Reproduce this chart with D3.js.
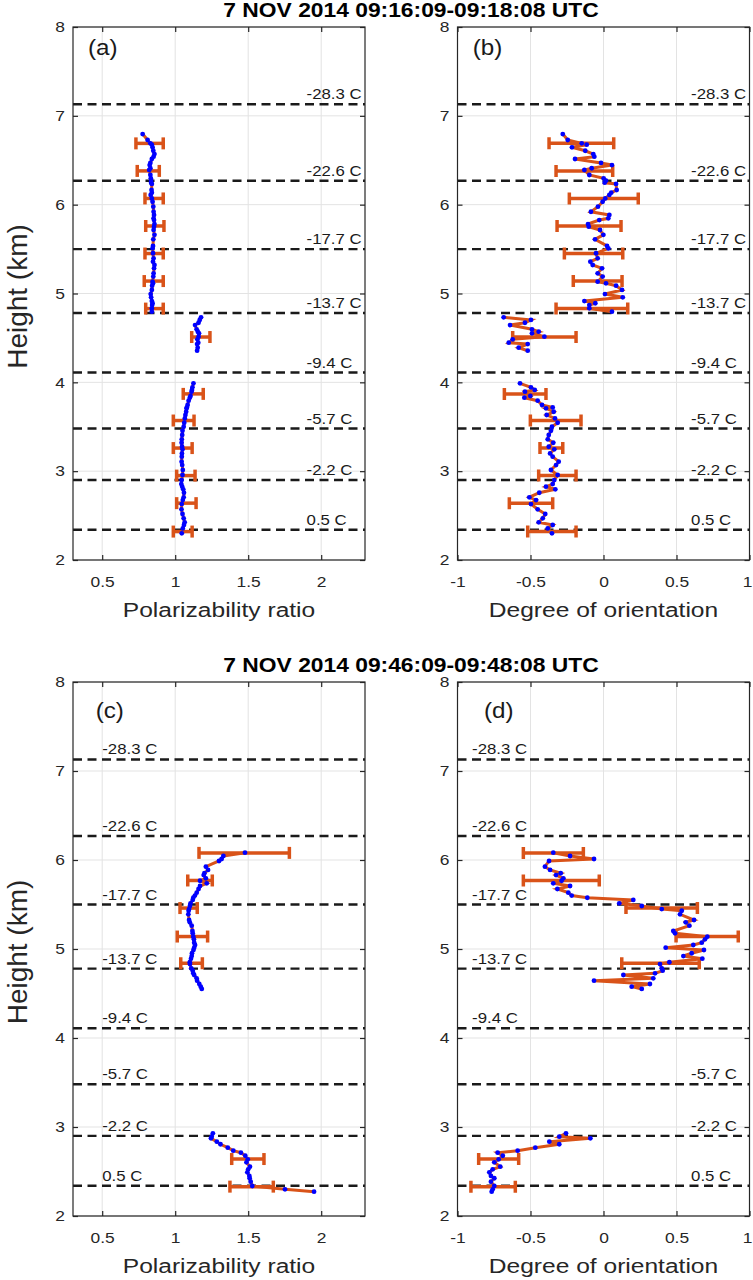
<!DOCTYPE html>
<html>
<head>
<meta charset="utf-8">
<script src="https://cdn.jsdelivr.net/npm/d3@7"></script>
<style>
  body { margin: 0; background: #fff; }
  svg { display: block; font-family: "Liberation Sans", Arial, sans-serif; }
</style>
</head>
<body>
<svg id="chart" width="753" height="1280"></svg>
<script>
// ---------- data ----------
const titleTop = "7 NOV 2014 09:16:09-09:18:08 UTC";
const titleBot = "7 NOV 2014 09:46:09-09:48:08 UTC";

const tempHeights = [7.13, 6.27, 5.50, 4.78, 4.11, 3.48, 2.90, 2.34];
const tempLabels = ["-28.3 C", "-22.6 C", "-17.7 C", "-13.7 C", "-9.4 C", "-5.7 C", "-2.2 C", "0.5 C"];

const yTicks = [2, 3, 4, 5, 6, 7, 8];
const polTicks = [0.5, 1, 1.5, 2];
const dooTicks = [-1, -0.5, 0, 0.5, 1];

// first time (a, b): three profile segments
const hTopUpper = [6.795, 6.728, 6.690, 6.675, 6.646, 6.607, 6.570, 6.540, 6.514, 6.470,
  6.446, 6.410, 6.390, 6.334, 6.297, 6.270, 6.247, 6.233, 6.165, 6.135,
  6.110, 6.070, 6.033, 5.977, 5.920, 5.884, 5.846, 5.827, 5.782, 5.752,
  5.715, 5.660, 5.610, 5.535, 5.509, 5.453, 5.396, 5.358, 5.321, 5.283,
  5.227, 5.190, 5.133, 5.115, 5.088, 5.040, 4.994, 4.957, 4.915, 4.890,
  4.870, 4.833, 4.795];
const polTopUpper = [0.777, 0.811, 0.830, 0.840, 0.845, 0.850, 0.858, 0.852, 0.840, 0.830,
  0.825, 0.830, 0.822, 0.830, 0.833, 0.835, 0.835, 0.840, 0.838, 0.840,
  0.832, 0.840, 0.845, 0.850, 0.852, 0.855, 0.852, 0.855, 0.858, 0.855,
  0.852, 0.858, 0.850, 0.848, 0.845, 0.848, 0.852, 0.848, 0.858, 0.855,
  0.852, 0.850, 0.845, 0.848, 0.842, 0.840, 0.832, 0.835, 0.840, 0.845,
  0.842, 0.840, 0.840];
const dooTopUpper = [-0.279, -0.245, -0.149, -0.115, -0.216, -0.125, -0.070, -0.063, -0.195, -0.017,
  0.058, -0.081, -0.131, -0.097, 0.001, 0.017, 0.008, 0.086, 0.090, 0.053,
  0.040, 0.012, -0.006, -0.038, -0.086, 0.040, 0.033, -0.029, -0.106, -0.101,
  -0.024, -0.001, -0.058, 0.024, 0.033, -0.051, -0.040, -0.090, -0.074, -0.010,
  -0.040, -0.006, -0.040, 0.017, 0.086, 0.127, 0.010, 0.132, -0.131, -0.056,
  -0.097, -0.097, 0.058];

const hTopMid = [4.732, 4.702, 4.671, 4.645, 4.597, 4.570, 4.552, 4.514, 4.484, 4.446, 4.431, 4.390, 4.356];
const polTopMid = [1.177, 1.168, 1.160, 1.136, 1.147, 1.155, 1.163, 1.160, 1.152, 1.158, 1.150, 1.154, 1.150];
const dooTopMid = [-0.684, -0.497, -0.538, -0.640, -0.490, -0.444, -0.490, -0.405, -0.622, -0.649, -0.519, -0.581, -0.519];

const hTopLower = [3.989, 3.944, 3.914, 3.895, 3.846, 3.827, 3.793, 3.745, 3.718, 3.707,
  3.669, 3.632, 3.594, 3.545, 3.500, 3.455, 3.407, 3.358, 3.320, 3.275,
  3.246, 3.200, 3.163, 3.107, 3.069, 3.013, 2.957, 2.900, 2.855, 2.825,
  2.796, 2.757, 2.706, 2.675, 2.630, 2.571, 2.518, 2.469, 2.424, 2.394,
  2.356, 2.300];
const polTopLower = [1.125, 1.118, 1.115, 1.112, 1.105, 1.100, 1.092, 1.085, 1.080, 1.078,
  1.075, 1.070, 1.066, 1.062, 1.058, 1.050, 1.048, 1.045, 1.044, 1.047,
  1.050, 1.046, 1.045, 1.044, 1.048, 1.052, 1.050, 1.044, 1.042, 1.048,
  1.055, 1.060, 1.058, 1.052, 1.045, 1.043, 1.050, 1.058, 1.065, 1.060,
  1.052, 1.045];
const dooTopLower = [-0.572, -0.497, -0.471, -0.538, -0.501, -0.542, -0.451, -0.421, -0.348, -0.394,
  -0.341, -0.389, -0.332, -0.314, -0.353, -0.360, -0.375, -0.382, -0.344, -0.375,
  -0.337, -0.366, -0.348, -0.307, -0.325, -0.360, -0.314, -0.337, -0.348, -0.394,
  -0.330, -0.440, -0.508, -0.462, -0.497, -0.451, -0.399, -0.416, -0.444, -0.348,
  -0.382, -0.353];

const errHTop = [6.69, 6.38, 6.07, 5.76, 5.45, 5.14, 4.83, 4.51, 3.87, 3.57, 3.26, 2.95, 2.64, 2.32];
const polErrTopLo = [0.731, 0.740, 0.793, 0.798, 0.793, 0.788, 0.798, 1.113, 1.055, 0.987, 0.987, 1.010, 1.010, 0.987];
const polErrTopHi = [0.918, 0.891, 0.918, 0.923, 0.918, 0.918, 0.918, 1.238, 1.192, 1.129, 1.116, 1.136, 1.143, 1.116];
const dooErrTopLo = [-0.373, -0.325, -0.234, -0.318, -0.268, -0.207, -0.325, -0.622, -0.679, -0.501, -0.435, -0.444, -0.645, -0.519];
const dooErrTopHi = [0.070, 0.063, 0.238, 0.120, 0.132, 0.127, 0.166, -0.188, -0.394, -0.154, -0.279, -0.188, -0.348, -0.188];

// second time (c, d): two profile segments
const hBotUpper = [6.082, 6.045, 6.011, 5.989, 5.925, 5.888, 5.851, 5.831, 5.794, 5.767,
  5.738, 5.708, 5.674, 5.633, 5.600, 5.576, 5.551, 5.513, 5.483, 5.449,
  5.430, 5.390, 5.326, 5.300, 5.262, 5.202, 5.176, 5.138, 5.109, 5.071,
  5.045, 5.015, 4.989, 4.952, 4.921, 4.891, 4.851, 4.831, 4.783, 4.756,
  4.727, 4.708, 4.671, 4.644, 4.607, 4.577, 4.551];
const polBotUpper = [1.478, 1.330, 1.318, 1.300, 1.210, 1.225, 1.200, 1.195, 1.210, 1.170,
  1.216, 1.170, 1.160, 1.147, 1.135, 1.124, 1.120, 1.105, 1.101, 1.095,
  1.092, 1.090, 1.095, 1.100, 1.113, 1.118, 1.120, 1.124, 1.128, 1.130,
  1.136, 1.130, 1.125, 1.115, 1.113, 1.108, 1.100, 1.101, 1.110, 1.120,
  1.124, 1.130, 1.147, 1.150, 1.165, 1.175, 1.182];
const dooBotUpper = [-0.344, -0.229, -0.065, -0.373, -0.401, -0.366, -0.293, -0.325, -0.275, -0.287,
  -0.344, -0.229, -0.316, -0.241, -0.218, -0.111, 0.204, 0.108, 0.262, 0.399,
  0.536, 0.524, 0.620, 0.563, 0.588, 0.478, 0.490, 0.711, 0.695, 0.673,
  0.615, 0.426, 0.688, 0.604, 0.547, 0.677, 0.451, 0.387, 0.399, 0.405,
  0.353, 0.136, 0.341, -0.065, 0.318, 0.193, 0.262];

const hBotLower = [2.929, 2.891, 2.873, 2.835, 2.806, 2.768, 2.734, 2.711, 2.677, 2.637,
  2.603, 2.554, 2.525, 2.491, 2.450, 2.424, 2.386, 2.337, 2.300, 2.273];
const polBotLower = [1.258, 1.250, 1.245, 1.285, 1.310, 1.360, 1.398, 1.450, 1.480, 1.497,
  1.488, 1.512, 1.500, 1.494, 1.508, 1.510, 1.517, 1.528, 1.752, 1.951];
const dooBotLower = [-0.257, -0.303, -0.090, -0.371, -0.303, -0.467, -0.588, -0.725, -0.690, -0.718,
  -0.748, -0.707, -0.759, -0.782, -0.771, -0.748, -0.771, -0.748, -0.759, -0.766];

const errHBot = [6.08, 5.77, 5.46, 5.14, 4.84, 2.64, 2.33];
const polErrBotLo = [1.163, 1.086, 1.033, 1.014, 1.038, 1.387, 1.375];
const polErrBotHi = [1.782, 1.254, 1.151, 1.222, 1.186, 1.608, 1.672];
const dooErrBotLo = [-0.549, -0.549, 0.154, 0.497, 0.125, -0.855, -0.908];
const dooErrBotHi = [-0.138, -0.029, 0.643, 0.923, 0.656, -0.581, -0.604];

// ---------- drawing ----------
const W = 753, H = 1280;
const SX = 1.16; // lettering in the source is wider than Arial
const BLUE = "#0000ff", ORANGE = "#d95319", INK = "#262626";

const svg = d3.select("#chart");
svg.append("rect").attr("width", W).attr("height", H).attr("fill", "#fff");

function addText(parent, x, y, str, size, opts = {}) {
  const t = parent.append("text")
    .attr("transform", `translate(${x},${y}) scale(${opts.sx || SX},1)`)
    .attr("font-size", size)
    .attr("fill", opts.fill || INK)
    .attr("text-anchor", opts.anchor || "start")
    .text(str);
  if (opts.bold) t.attr("font-weight", "bold");
  return t;
}

function segment(hs, vs) {
  return hs.map((h, i) => ({ h: h, v: vs[i] }));
}

function drawPanel(p) {
  const x = d3.scaleLinear().domain(p.xDomain).range([p.left, p.left + 292]);
  const y = d3.scaleLinear().domain([2, 8]).range([p.bottom, p.top]);
  const g = svg.append("g");
  const clipId = "clip-" + p.id;

  g.append("clipPath").attr("id", clipId).append("rect")
    .attr("x", p.left).attr("y", p.top)
    .attr("width", 292).attr("height", p.bottom - p.top);

  /* --------- GRID --------- */
  g.append("g").selectAll("line").data(p.xTicks).join("line")
    .attr("x1", d => x(d)).attr("x2", d => x(d))
    .attr("y1", p.top).attr("y2", p.bottom)
    .attr("stroke", "#e3e3e3").attr("stroke-width", 1);
  g.append("g").selectAll("line").data(yTicks).join("line")
    .attr("x1", p.left).attr("x2", p.left + 292)
    .attr("y1", d => y(d)).attr("y2", d => y(d))
    .attr("stroke", "#e3e3e3").attr("stroke-width", 1);

  /* --------- TEMPERATURE LEVELS --------- */
  const lv = g.append("g").attr("clip-path", `url(#${clipId})`);
  lv.selectAll("line").data(tempHeights).join("line")
    .attr("x1", p.left).attr("x2", p.left + 292)
    .attr("y1", d => y(d)).attr("y2", d => y(d))
    .attr("stroke", "#1a1a1a").attr("stroke-width", 2.4)
    .attr("stroke-dasharray", "9,5.5");
  tempHeights.forEach((h, i) => {
    addText(g, x(p.tempX[i]), y(h) - 5, tempLabels[i], 14, { sx: 1.2, fill: "#1a1a1a" });
  });

  /* --------- PROFILE --------- */
  const data = g.append("g").attr("clip-path", `url(#${clipId})`);
  const line = d3.line().x(d => x(d.v)).y(d => y(d.h));
  data.selectAll("path.prof").data(p.segments).join("path")
    .attr("class", "prof")
    .attr("d", line)
    .attr("fill", "none")
    .attr("stroke", ORANGE)
    .attr("stroke-width", 3)
    .attr("stroke-linejoin", "miter");

  // error bars
  const eb = data.append("g").attr("stroke", ORANGE).attr("stroke-width", 3.5);
  p.errH.forEach((h, i) => {
    const yy = y(h), xl = x(p.errLo[i]), xh = x(p.errHi[i]);
    eb.append("line").attr("x1", xl).attr("x2", xh).attr("y1", yy).attr("y2", yy);
    eb.append("line").attr("x1", xl).attr("x2", xl).attr("y1", yy - 6).attr("y2", yy + 6);
    eb.append("line").attr("x1", xh).attr("x2", xh).attr("y1", yy - 6).attr("y2", yy + 6);
  });

  data.selectAll("circle").data(p.segments.flat()).join("circle")
    .attr("cx", d => x(d.v)).attr("cy", d => y(d.h))
    .attr("r", 2.4).attr("fill", BLUE);

  /* --------- AXES --------- */
  g.append("rect")
    .attr("x", p.left).attr("y", p.top)
    .attr("width", 292).attr("height", p.bottom - p.top)
    .attr("fill", "none").attr("stroke", INK).attr("stroke-width", 1.2);

  const fmt = d => String(d);
  const ax = g.append("g").attr("color", INK);
  const bottomAxis = ax.append("g").attr("transform", `translate(0,${p.bottom})`)
    .call(d3.axisBottom(x).tickValues(p.xTicks).tickSize(-5).tickPadding(16).tickFormat(fmt));
  const leftAxis = ax.append("g").attr("transform", `translate(${p.left},0)`)
    .call(d3.axisLeft(y).tickValues(yTicks).tickSize(-5).tickPadding(7).tickFormat(fmt));
  ax.append("g").attr("transform", `translate(0,${p.top})`)
    .call(d3.axisTop(x).tickValues(p.xTicks).tickSize(-5).tickFormat(""));
  ax.append("g").attr("transform", `translate(${p.left + 292},0)`)
    .call(d3.axisRight(y).tickValues(yTicks).tickSize(-5).tickFormat(""));
  ax.selectAll(".domain").remove();
  ax.selectAll("g").attr("font-family", null).attr("font-size", null);
  ax.selectAll(".tick line").attr("stroke-width", 1.2);
  [bottomAxis, leftAxis].forEach(a => a.selectAll("text")
    .attr("font-size", 15)
    .attr("fill", INK)
    .attr("transform", `scale(${SX},1)`));
  // keep the last label on the page edge inside the picture
  bottomAxis.selectAll("text").filter(d => x(d) > W - 6).attr("x", -2);

  addText(g, p.left + 146, p.bottom + 57, p.xLabel, 21, { anchor: "middle", sx: 1.17 });
  addText(g, p.tagX, p.tagY, p.tag, 22, { sx: 1.1, fill: "#1a1a1a" });
}

const rows = [
  { top: 27, bottom: 560, title: titleTop, titleY: 16.5 },
  { top: 682, bottom: 1216, title: titleBot, titleY: 672 }
];

rows.forEach(r => {
  addText(svg, 411, r.titleY, r.title, 19.5, { anchor: "middle", bold: true, sx: 1.17, fill: "#000" });
  svg.append("text")
    .attr("transform", `translate(26.5,${(r.top + r.bottom) / 2 + 3}) rotate(-90)`)
    .attr("text-anchor", "middle")
    .attr("font-size", 28)
    .attr("fill", INK)
    .text("Height (km)");
});

const leftX = 73, rightX = 457.5;

drawPanel({
  id: "a", tag: "(a)", tagX: 88, tagY: 55,
  left: leftX, top: rows[0].top, bottom: rows[0].bottom,
  xDomain: [0.3, 2.3], xTicks: polTicks, xLabel: "Polarizability ratio",
  tempX: tempHeights.map(() => 1.9),
  segments: [segment(hTopUpper, polTopUpper), segment(hTopMid, polTopMid), segment(hTopLower, polTopLower)],
  errH: errHTop, errLo: polErrTopLo, errHi: polErrTopHi
});

drawPanel({
  id: "b", tag: "(b)", tagX: 472.7, tagY: 55,
  left: rightX, top: rows[0].top, bottom: rows[0].bottom,
  xDomain: [-1, 1], xTicks: dooTicks, xLabel: "Degree of orientation",
  tempX: tempHeights.map(() => 0.6),
  segments: [segment(hTopUpper, dooTopUpper), segment(hTopMid, dooTopMid), segment(hTopLower, dooTopLower)],
  errH: errHTop, errLo: dooErrTopLo, errHi: dooErrTopHi
});

drawPanel({
  id: "c", tag: "(c)", tagX: 95.7, tagY: 718,
  left: leftX, top: rows[1].top, bottom: rows[1].bottom,
  xDomain: [0.3, 2.3], xTicks: polTicks, xLabel: "Polarizability ratio",
  tempX: tempHeights.map(() => 0.5),
  segments: [segment(hBotUpper, polBotUpper), segment(hBotLower, polBotLower)],
  errH: errHBot, errLo: polErrBotLo, errHi: polErrBotHi
});

drawPanel({
  id: "d", tag: "(d)", tagX: 484, tagY: 718,
  left: rightX, top: rows[1].top, bottom: rows[1].bottom,
  xDomain: [-1, 1], xTicks: dooTicks, xLabel: "Degree of orientation",
  tempX: tempHeights.map((h, i) => (i < 5 ? -0.9 : 0.6)),
  segments: [segment(hBotUpper, dooBotUpper), segment(hBotLower, dooBotLower)],
  errH: errHBot, errLo: dooErrBotLo, errHi: dooErrBotHi
});
</script>
</body>
</html>
